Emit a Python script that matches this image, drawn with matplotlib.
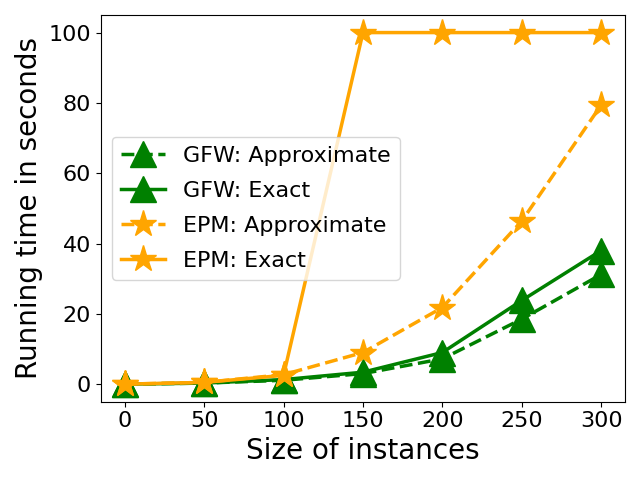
import matplotlib
matplotlib.use("Agg")
import matplotlib.pyplot as plt

sizes = [0, 50, 100, 150, 200, 250, 300]
gfw_approx = [0.0, 0.3, 1.1, 3.0, 7.2, 18.5, 31.2]
gfw_exact = [0.0, 0.3, 1.3, 3.4, 9.0, 23.8, 38.0]
epm_approx = [0.0, 0.5, 2.7, 9.0, 21.8, 46.4, 79.4]
epm_exact = [0.0, 0.5, 2.5, 100.0, 100.0, 100.0, 100.0]

fig, ax = plt.subplots(figsize=(6.4, 4.8), dpi=100)
ax.plot(sizes, gfw_approx, "--", color="green", marker="^", markersize=19, linewidth=2.5, label="GFW: Approximate")
ax.plot(sizes, gfw_exact, "-", color="green", marker="^", markersize=19, linewidth=2.5, label="GFW: Exact")
ax.plot(sizes, epm_approx, "--", color="orange", marker="*", markersize=20, linewidth=2.5, label="EPM: Approximate")
ax.plot(sizes, epm_exact, "-", color="orange", marker="*", markersize=20, linewidth=2.5, label="EPM: Exact")

ax.set_xlabel("Size of instances", fontsize=20)
ax.set_ylabel("Running time in seconds", fontsize=20)
ax.tick_params(labelsize=16)
ax.legend(fontsize=16, labelspacing=0.68)

plt.tight_layout()
plt.savefig("out.png")
